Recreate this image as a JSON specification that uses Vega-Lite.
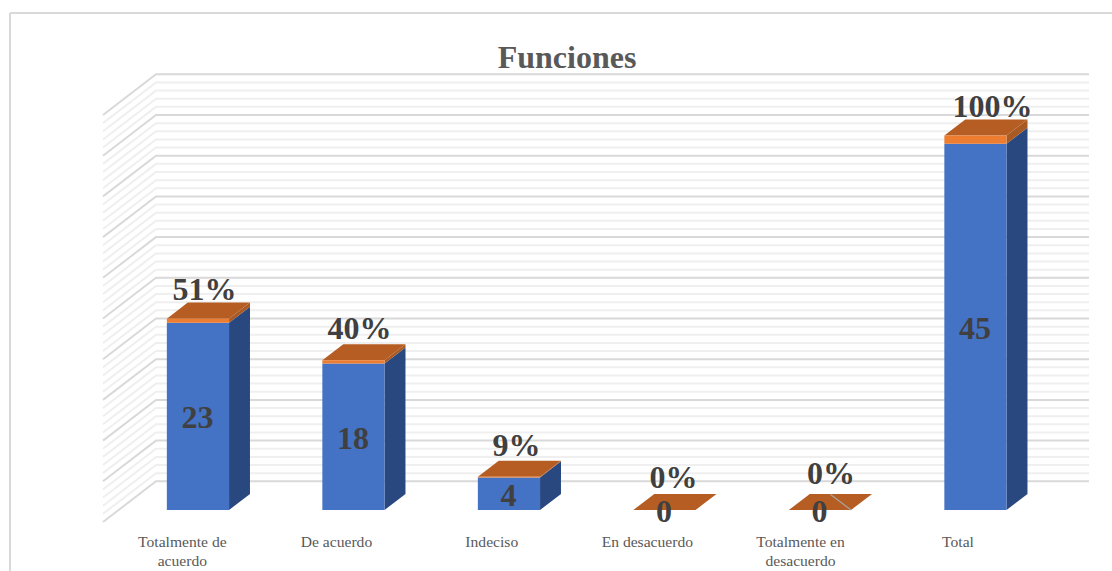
{
  "$schema": "https://vega.github.io/schema/vega-lite/v6.json",
  "width": 1112,
  "height": 571,
  "padding": 0,
  "autosize": "none",
  "background": "white",
  "title": {"text": "Funciones", "font": "Liberation Serif", "fontSize": 32, "fontWeight": "bold", "color": "#595959", "anchor": "middle", "dx": 11, "offset": -100, "baseline": "alphabetic"},
  "config": {"view": {"stroke": null}},
  "params": [
    {"name": "fugaX", "value": 0.3408},
    {"name": "fugaY", "value": 5},
    {"name": "fondo0", "value": 0.295},
    {"name": "fondo1", "value": 0.69},
    {"name": "izq", "value": 0.31},
    {"name": "der", "value": 0.71}
  ],
  "datasets": {
    "respuestas": [
      {"orden": 0, "categoria": "Totalmente de\nacuerdo", "cantidad": 23, "porcentaje": 0.51},
      {"orden": 1, "categoria": "De acuerdo", "cantidad": 18, "porcentaje": 0.40},
      {"orden": 2, "categoria": "Indeciso", "cantidad": 4, "porcentaje": 0.09},
      {"orden": 3, "categoria": "En desacuerdo", "cantidad": 0, "porcentaje": 0},
      {"orden": 4, "categoria": "Totalmente en\ndesacuerdo", "cantidad": 0, "porcentaje": 0},
      {"orden": 5, "categoria": "Total", "cantidad": 45, "porcentaje": 1}
    ],
    "rejilla": [
      {"nivel": 0}, {"nivel": 1}, {"nivel": 2}, {"nivel": 3}, {"nivel": 4}, {"nivel": 5},
      {"nivel": 6}, {"nivel": 7}, {"nivel": 8}, {"nivel": 9}, {"nivel": 10},
      {"nivel": 11}, {"nivel": 12}, {"nivel": 13}, {"nivel": 14}, {"nivel": 15},
      {"nivel": 16}, {"nivel": 17}, {"nivel": 18}, {"nivel": 19}, {"nivel": 20},
      {"nivel": 21}, {"nivel": 22}, {"nivel": 23}, {"nivel": 24}, {"nivel": 25},
      {"nivel": 26}, {"nivel": 27}, {"nivel": 28}, {"nivel": 29}, {"nivel": 30},
      {"nivel": 31}, {"nivel": 32}, {"nivel": 33}, {"nivel": 34}, {"nivel": 35},
      {"nivel": 36}, {"nivel": 37}, {"nivel": 38}, {"nivel": 39}, {"nivel": 40},
      {"nivel": 41}, {"nivel": 42}, {"nivel": 43}, {"nivel": 44}, {"nivel": 45},
      {"nivel": 46}, {"nivel": 47}, {"nivel": 48}, {"nivel": 49}, {"nivel": 50}
    ],
    "marco": [{"lado": "borde"}]
  },
  "layer": [
    {
      "data": {"name": "marco"},
      "mark": {"type": "rule", "color": "#d9d9d9", "strokeWidth": 2},
      "encoding": {
        "x": {"datum": -0.598, "type": "quantitative", "scale": {"domain": [-0.6624, 6.4887], "nice": false, "zero": false}, "axis": null},
        "y": {"datum": 62.53, "type": "quantitative", "scale": {"domain": [-6.02, 64.13], "nice": false, "zero": false}, "axis": null},
        "x2": {"datum": 6.4887}
      }
    },
    {
      "data": {"name": "marco"},
      "mark": {"type": "rule", "color": "#d9d9d9", "strokeWidth": 2},
      "encoding": {
        "x": {"datum": -0.598, "type": "quantitative", "scale": {"domain": [-0.6624, 6.4887], "nice": false, "zero": false}, "axis": null},
        "y": {"datum": 62.53, "type": "quantitative", "scale": {"domain": [-6.02, 64.13], "nice": false, "zero": false}, "axis": null},
        "y2": {"datum": -6.02}
      }
    },
    {
      "data": {"name": "rejilla"},
      "transform": [
        {"filter": "datum.nivel % 5 != 0"},
        {"calculate": "[0, 1, 2]", "as": "tramo"},
        {"flatten": ["tramo"]},
        {"calculate": "datum.tramo == 0 ? 0 : fugaX + (datum.tramo == 2 ? 6 : 0)", "as": "px"},
        {"calculate": "datum.nivel + (datum.tramo == 0 ? 0 : fugaY)", "as": "py"}
      ],
      "mark": {"type": "line", "color": "#efefef", "strokeWidth": 2},
      "encoding": {
        "x": {"field": "px", "type": "quantitative", "scale": {"domain": [-0.6624, 6.4887], "nice": false, "zero": false}, "axis": null},
        "y": {"field": "py", "type": "quantitative", "scale": {"domain": [-6.02, 64.13], "nice": false, "zero": false}, "axis": null},
        "detail": {"field": "nivel"},
        "order": {"field": "tramo"}
      }
    },
    {
      "data": {"name": "rejilla"},
      "transform": [
        {"filter": "datum.nivel % 5 == 0"},
        {"calculate": "[0, 1, 2]", "as": "tramo"},
        {"flatten": ["tramo"]},
        {"calculate": "datum.tramo == 0 ? 0 : fugaX + (datum.tramo == 2 ? 6 : 0)", "as": "px"},
        {"calculate": "datum.nivel + (datum.tramo == 0 ? 0 : fugaY)", "as": "py"}
      ],
      "mark": {"type": "line", "color": "#d9d9d9", "strokeWidth": 2},
      "encoding": {
        "x": {"field": "px", "type": "quantitative", "scale": {"domain": [-0.6624, 6.4887], "nice": false, "zero": false}, "axis": null},
        "y": {"field": "py", "type": "quantitative", "scale": {"domain": [-6.02, 64.13], "nice": false, "zero": false}, "axis": null},
        "detail": {"field": "nivel"},
        "order": {"field": "tramo"}
      }
    },
    {
      "data": {"name": "respuestas"},
      "transform": [
        {"calculate": "[fondo0, fondo1]", "as": "d"},
        {"flatten": ["d"]},
        {"calculate": "datum.orden + der + fugaX * datum.d", "as": "px"},
        {"calculate": "fugaY * datum.d", "as": "y0"},
        {"calculate": "datum.cantidad + fugaY * datum.d", "as": "y1"}
      ],
      "mark": {"type": "area", "color": "#294880", "orient": "vertical"},
      "encoding": {
        "x": {"field": "px", "type": "quantitative", "scale": {"domain": [-0.6624, 6.4887], "nice": false, "zero": false}, "axis": null},
        "y": {"field": "y0", "type": "quantitative", "scale": {"domain": [-6.02, 64.13], "nice": false, "zero": false}, "axis": null},
        "y2": {"field": "y1"},
        "detail": {"field": "orden"}
      }
    },
    {
      "data": {"name": "respuestas"},
      "transform": [
        {"calculate": "[fondo0, fondo1]", "as": "d"},
        {"flatten": ["d"]},
        {"calculate": "datum.orden + der + fugaX * datum.d", "as": "px"},
        {"calculate": "datum.cantidad + fugaY * datum.d", "as": "y0"},
        {"calculate": "datum.cantidad + datum.porcentaje + fugaY * datum.d", "as": "y1"}
      ],
      "mark": {"type": "area", "color": "#a95a22", "orient": "vertical"},
      "encoding": {
        "x": {"field": "px", "type": "quantitative", "scale": {"domain": [-0.6624, 6.4887], "nice": false, "zero": false}, "axis": null},
        "y": {"field": "y0", "type": "quantitative", "scale": {"domain": [-6.02, 64.13], "nice": false, "zero": false}, "axis": null},
        "y2": {"field": "y1"},
        "detail": {"field": "orden"}
      }
    },
    {
      "data": {"name": "respuestas"},
      "transform": [
        {"calculate": "[fondo0, fondo1]", "as": "d"},
        {"flatten": ["d"]},
        {"calculate": "datum.orden + izq + fugaX * datum.d", "as": "x0"},
        {"calculate": "datum.orden + der + fugaX * datum.d", "as": "x1"},
        {"calculate": "datum.cantidad + datum.porcentaje + fugaY * datum.d", "as": "py"}
      ],
      "mark": {"type": "area", "color": "#b55d22", "orient": "horizontal"},
      "encoding": {
        "y": {"field": "py", "type": "quantitative", "scale": {"domain": [-6.02, 64.13], "nice": false, "zero": false}, "axis": null},
        "x": {"field": "x0", "type": "quantitative", "scale": {"domain": [-0.6624, 6.4887], "nice": false, "zero": false}, "axis": null},
        "x2": {"field": "x1"},
        "detail": {"field": "orden"}
      }
    },
    {
      "data": {"name": "respuestas"},
      "transform": [
        {"calculate": "datum.orden + izq + fugaX * fondo0", "as": "x0"},
        {"calculate": "datum.orden + der + fugaX * fondo0", "as": "x1"},
        {"calculate": "fugaY * fondo0", "as": "y0"},
        {"calculate": "datum.cantidad + fugaY * fondo0", "as": "y1"}
      ],
      "mark": {"type": "rect", "color": "#4472c4"},
      "encoding": {
        "x": {"field": "x0", "type": "quantitative", "scale": {"domain": [-0.6624, 6.4887], "nice": false, "zero": false}, "axis": null},
        "x2": {"field": "x1"},
        "y": {"field": "y0", "type": "quantitative", "scale": {"domain": [-6.02, 64.13], "nice": false, "zero": false}, "axis": null},
        "y2": {"field": "y1"}
      }
    },
    {
      "data": {"name": "respuestas"},
      "transform": [
        {"filter": "datum.porcentaje > 0"},
        {"calculate": "datum.orden + izq + fugaX * fondo0", "as": "x0"},
        {"calculate": "datum.orden + der + fugaX * fondo0", "as": "x1"},
        {"calculate": "datum.cantidad + fugaY * fondo0", "as": "y0"},
        {"calculate": "datum.cantidad + datum.porcentaje + fugaY * fondo0", "as": "y1"}
      ],
      "mark": {"type": "rect", "color": "#ed7d31"},
      "encoding": {
        "x": {"field": "x0", "type": "quantitative", "scale": {"domain": [-0.6624, 6.4887], "nice": false, "zero": false}, "axis": null},
        "x2": {"field": "x1"},
        "y": {"field": "y0", "type": "quantitative", "scale": {"domain": [-6.02, 64.13], "nice": false, "zero": false}, "axis": null},
        "y2": {"field": "y1"}
      }
    },
    {
      "data": {"name": "respuestas"},
      "transform": [
        {"filter": "datum.orden == 4"},
        {"calculate": "[0, 1]", "as": "t"},
        {"flatten": ["t"]},
        {"calculate": "datum.orden + der + fugaX * fondo0 - 0.132 * datum.t", "as": "px"},
        {"calculate": "fugaY * fondo0 + 1.91 * datum.t", "as": "py"}
      ],
      "mark": {"type": "line", "color": "#a6a6a6", "strokeWidth": 1.2},
      "encoding": {
        "x": {"field": "px", "type": "quantitative", "scale": {"domain": [-0.6624, 6.4887], "nice": false, "zero": false}, "axis": null},
        "y": {"field": "py", "type": "quantitative", "scale": {"domain": [-6.02, 64.13], "nice": false, "zero": false}, "axis": null}
      }
    },
    {
      "data": {"name": "respuestas"},
      "transform": [
        {"calculate": "datum.orden + (izq + der) / 2 + fugaX * fondo0", "as": "px"},
        {"calculate": "datum.cantidad / 2 + fugaY * fondo0", "as": "py"}
      ],
      "mark": {"type": "text", "font": "Liberation Serif", "fontSize": 32, "fontWeight": "bold", "color": "#404040", "align": "center", "baseline": "middle", "dy": 2, "dx": -0.5},
      "encoding": {
        "x": {"field": "px", "type": "quantitative", "scale": {"domain": [-0.6624, 6.4887], "nice": false, "zero": false}, "axis": null},
        "y": {"field": "py", "type": "quantitative", "scale": {"domain": [-6.02, 64.13], "nice": false, "zero": false}, "axis": null},
        "text": {"field": "cantidad", "type": "quantitative"}
      }
    },
    {
      "data": {"name": "respuestas"},
      "transform": [
        {"calculate": "[6.5, 6, 7.6, 9, 11, 17][datum.orden] / 155.5", "as": "ajusteX"},
        {"calculate": "[29, 31, 31, 32, 35.5, 29][datum.orden] / 8.14", "as": "ajusteY"},
        {"calculate": "datum.orden + (izq + der) / 2 + fugaX * fondo0 + datum.ajusteX", "as": "px"},
        {"calculate": "datum.cantidad + datum.porcentaje + fugaY * fondo0 + datum.ajusteY", "as": "py"}
      ],
      "mark": {"type": "text", "font": "Liberation Serif", "fontSize": 32, "fontWeight": "bold", "color": "#404040", "align": "center", "baseline": "middle"},
      "encoding": {
        "x": {"field": "px", "type": "quantitative", "scale": {"domain": [-0.6624, 6.4887], "nice": false, "zero": false}, "axis": null},
        "y": {"field": "py", "type": "quantitative", "scale": {"domain": [-6.02, 64.13], "nice": false, "zero": false}, "axis": null},
        "text": {"field": "porcentaje", "type": "quantitative", "format": ".0%"}
      }
    },
    {
      "data": {"name": "respuestas"},
      "transform": [
        {"calculate": "[0.5103, 1.5016, 2.5, 3.5006, 4.4855, 5.4984][datum.orden]", "as": "px"},
        {"calculate": "-3.07", "as": "py"}
      ],
      "mark": {"type": "text", "font": "Liberation Serif", "fontSize": 15.6, "color": "#595959", "align": "center", "baseline": "alphabetic", "lineBreak": "\n", "lineHeight": 19},
      "encoding": {
        "x": {"field": "px", "type": "quantitative", "scale": {"domain": [-0.6624, 6.4887], "nice": false, "zero": false}, "axis": null},
        "y": {"field": "py", "type": "quantitative", "scale": {"domain": [-6.02, 64.13], "nice": false, "zero": false}, "axis": null},
        "text": {"field": "categoria", "type": "nominal"}
      }
    }
  ]
}
